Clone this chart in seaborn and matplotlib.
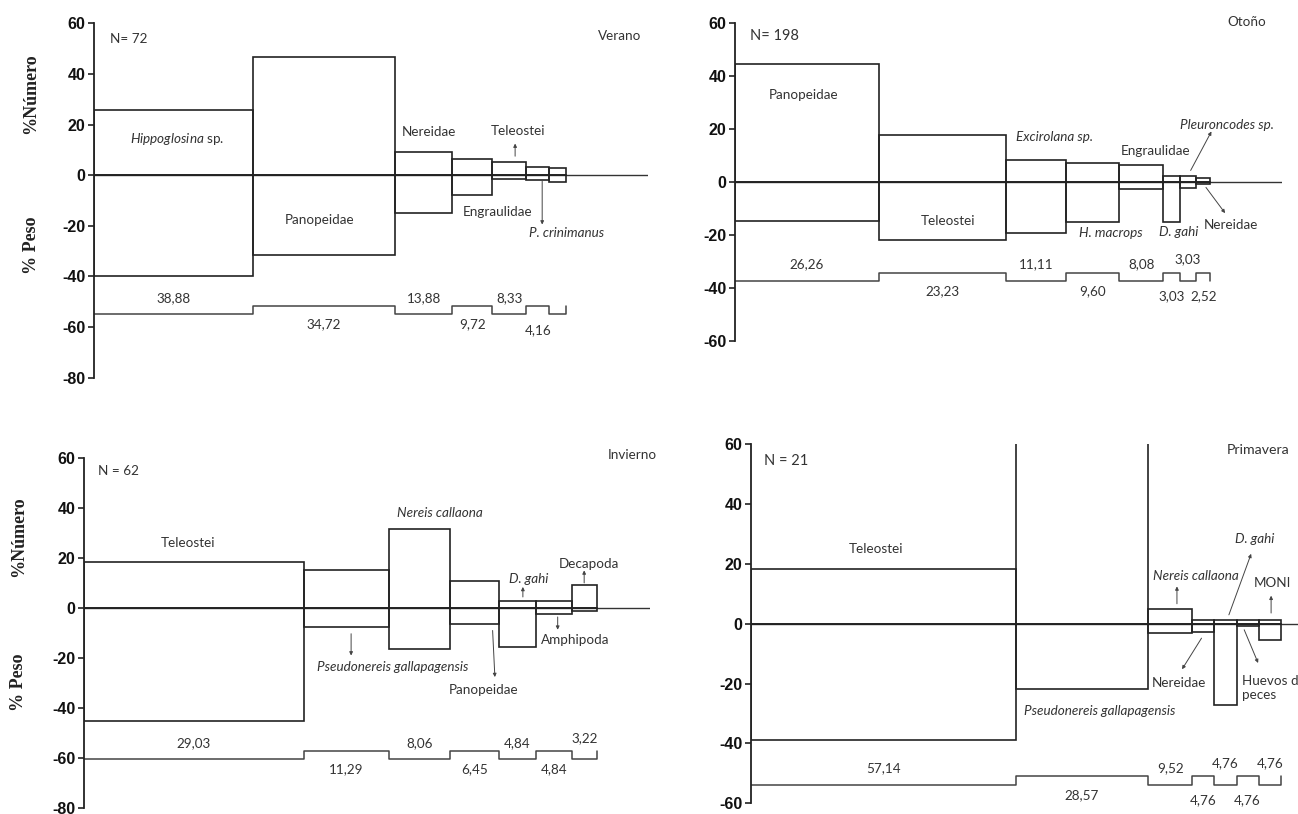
import numpy as np
import pandas as pd
import matplotlib
matplotlib.use("Agg")
import matplotlib.pyplot as plt
import seaborn as sns

sns.set_theme(style="white")
plt.rcParams['font.family'] = ['Lato', 'DejaVu Sans']
plt.rcParams['mathtext.fontset'] = 'custom'
plt.rcParams['mathtext.rm'] = 'Lato'
plt.rcParams['mathtext.it'] = 'Lato:italic'

# ---------------- data ----------------
# Verano (N = 72)
verano_fo = [38.88, 34.72, 13.88, 9.72, 8.33, 5.55, 4.16]
verano_fo_labels = ["38,88", "34,72", "13,88", "9,72", "8,33", "4,16", ""]
verano_pn = [25.8, 46.7, 9.2, 6.4, 5.3, 3.3, 2.9]
verano_pw = [-40.0, -31.4, -15.1, -8.0, -1.4, -2.0, -2.5]

# Otoño (N = 198)
otono_fo = [26.26, 23.23, 11.11, 9.60, 8.08, 3.03, 3.03, 2.52]
otono_fo_labels = ["26,26", "23,23", "11,11", "9,60", "8,08", "3,03", "3,03", "2,52"]
otono_pn = [44.5, 17.5, 8.3, 7.2, 6.2, 2.2, 2.2, 1.5]
otono_pw = [-14.7, -22.0, -19.1, -15.3, -2.7, -15.0, -2.2, -0.95]

# Invierno (N = 62)
invierno_fo = [29.03, 11.29, 8.06, 6.45, 4.84, 4.84, 3.22]
invierno_fo_labels = ["29,03", "11,29", "8,06", "6,45", "4,84", "4,84", "3,22"]
invierno_pn = [18.3, 15.1, 31.7, 10.9, 2.8, 2.8, 9.2]
invierno_pw = [-45.2, -7.6, -16.5, -6.5, -15.6, -2.3, -1.3]

# Primavera (N = 21)
primavera_fo = [57.14, 28.57, 9.52, 4.76, 4.76, 4.76, 4.76]
primavera_fo_labels = ["57,14", "28,57", "9,52", "4,76", "4,76", "4,76", "4,76"]
primavera_pn = [18.4, 71.4, 4.8, 1.3, 1.3, 1.3, 1.3]
primavera_pw = [-38.8, -21.8, -3.2, -2.6, -27.1, -0.7, -5.4]

# ---------------- figure ----------------
W, H = 1298, 814
fig = plt.figure(figsize=(W / 100, H / 100), dpi=100)

EDGE = "#222222"
TXT = "#333333"
ARR = "#444444"
FS = 9.7


def add_panel(rect_px, xmax, ylim, fo, pn, pw, fo_labels, low, high):
    x0, ytop, x1, ybot = rect_px
    ax = fig.add_axes([x0 / W, 1 - ybot / H, (x1 - x0) / W, (ybot - ytop) / H])
    fo = np.asarray(fo)
    left = np.concatenate([[0], np.cumsum(fo)[:-1]])
    end = fo.sum()
    ax.bar(left, pn, width=fo, align='edge', fill=False, edgecolor=EDGE, linewidth=1.2)
    ax.bar(left, pw, width=fo, align='edge', fill=False, edgecolor=EDGE, linewidth=1.2)
    ax.axhline(0, color="#333333", lw=1.0, zorder=0)
    # step line of frequency of occurrence
    levels = [low if i % 2 == 0 else high for i in range(len(fo))]
    other = high if levels[-1] == low else low
    xs = list(left) + [end, end]
    ys = levels + [levels[-1], other]
    ax.plot(xs, ys, drawstyle='steps-post', color="#444444", lw=1.1)
    px_per_unit = (x1 - x0) / xmax
    for i, lab in enumerate(fo_labels):
        if not lab:
            continue
        cx = left[i] + fo[i] / 2
        narrow = fo[i] * px_per_unit < 30
        if levels[i] == low:
            ax.annotate(lab, (cx, high), xytext=(0, 5 if narrow else 1.5), textcoords='offset points',
                        ha='center', va='bottom', fontsize=FS, color=TXT)
        else:
            ax.annotate(lab, (cx, low), xytext=(0, -7 if narrow else -3), textcoords='offset points',
                        ha='center', va='top', fontsize=FS, color=TXT)
    ax.set_xlim(0, xmax)
    ax.set_ylim(*ylim)
    ax.set_yticks(np.arange(ylim[0], ylim[1] + 1, 20))
    ax.set_yticklabels([str(v) for v in np.arange(ylim[0], ylim[1] + 1, 20)],
                       fontfamily=['Liberation Sans', 'DejaVu Sans'], fontweight='bold', fontsize=11.5,
                       color='#111111')
    ax.set_xticks([])
    for s in ['top', 'right', 'bottom']:
        ax.spines[s].set_visible(False)
    ax.spines['left'].set_color('#222222')
    ax.spines['left'].set_linewidth(1.3)
    ax.tick_params(axis='y', left=True, length=4, width=1.2, color='#222222', pad=2)
    ax.patch.set_alpha(0)
    return ax


def label(ax, text, x, y, italic=False, ha='center', size=FS):
    ax.text(x, y, text, ha=ha, va='center', fontsize=size, color=TXT,
            style='italic' if italic else 'normal', clip_on=False)


def arrow(ax, p_from, p_to):
    ax.annotate('', xy=p_to, xytext=p_from, annotation_clip=False,
                arrowprops=dict(arrowstyle='-|>', lw=0.7, color=ARR, mutation_scale=5,
                                shrinkA=0, shrinkB=0))


# Verano
ax1 = add_panel((93.5, 23.3, 648, 377.7), 135.2, (-80, 60), verano_fo, verano_pn, verano_pw,
                verano_fo_labels, -55, -51.8)
label(ax1, "$\\mathit{Hippoglosina}$ sp.", 20.4, 14.1)
label(ax1, "Panopeidae", 55, -17.7)
label(ax1, "Nereidae", 81.8, 17)
label(ax1, "Teleostei", 103.5, 17.3)
arrow(ax1, (102.8, 7.5), (102.8, 12.5))
label(ax1, "Engraulidae", 98.6, -14.5)
label(ax1, "P. crinimanus", 115.4, -23, italic=True)
arrow(ax1, (109.4, -2.4), (109.4, -19.5))
label(ax1, "N= 72", 4, 53.8, ha='left')
label(ax1, "Verano", 123, 55, ha='left')

# Otoño
ax2 = add_panel((735, 22.7, 1282, 341), 100, (-60, 60), otono_fo, otono_pn, otono_pw,
                otono_fo_labels, -37.2, -34.2)
label(ax2, "Panopeidae", 12.5, 32.8)
label(ax2, "Teleostei", 39, -14.6)
label(ax2, "Excirolana sp.", 58.5, 16.8, italic=True)
label(ax2, "Engraulidae", 76.9, 11.8)
label(ax2, "Pleuroncodes sp.", 90, 21.5, italic=True)
arrow(ax2, (83.3, 4.3), (87.1, 19))
label(ax2, "H. macrops", 68.7, -19.3, italic=True)
label(ax2, "D. gahi", 81.2, -19, italic=True)
label(ax2, "Nereidae", 90.7, -16.2)
arrow(ax2, (86.1, -2.1), (89.6, -11.8))
label(ax2, "N= 198", 2.7, 55, ha='left', size=10.5)
label(ax2, "Otoño", 90, 60.4, ha='left')

# Invierno
ax3 = add_panel((84, 457.7, 650, 808.3), 74.8, (-80, 60), invierno_fo, invierno_pn, invierno_pw,
                invierno_fo_labels, -60.4, -57.2)
label(ax3, "Teleostei", 13.8, 26)
label(ax3, "Nereis callaona", 47, 38.1, italic=True)
label(ax3, "D. gahi", 58.8, 11.5, italic=True)
arrow(ax3, (58, 4.4), (58, 8.4))
label(ax3, "Decapoda", 66.7, 17.7)
arrow(ax3, (66.1, 10), (66.1, 15))
label(ax3, "Pseudonereis gallapagensis", 40.8, -23.6, italic=True)
arrow(ax3, (35.3, -10.3), (35.3, -19))
label(ax3, "Panopeidae", 52.8, -32.7)
arrow(ax3, (54, -9), (54.3, -27.6))
label(ax3, "Amphipoda", 64.9, -12.7)
arrow(ax3, (62.6, -3.6), (62.6, -8.7))
label(ax3, "N = 62", 1.9, 54.7, ha='left')
label(ax3, "Invierno", 69.2, 61, ha='left')

# Primavera
ax4 = add_panel((750.7, 444.3, 1298, 803.3), 118, (-60, 60), primavera_fo, primavera_pn, primavera_pw,
                primavera_fo_labels, -53.8, -50.8)
label(ax4, "Teleostei", 27.1, 25)
label(ax4, "Pseudonereis gallapagensis", 75.2, -29, italic=True)
label(ax4, "Nereis callaona", 95.9, 16, italic=True)
arrow(ax4, (91.9, 6.7), (91.9, 12.5))
label(ax4, "D. gahi", 108.7, 28.3, italic=True)
arrow(ax4, (103.1, 3), (107.9, 23.4))
label(ax4, "MONI", 112.5, 13.6)
arrow(ax4, (112.2, 3.6), (112.2, 9.4))
label(ax4, "Nereidae", 92.3, -19.8)
arrow(ax4, (97.2, -4.8), (93, -15.2))
label(ax4, "Huevos de\npeces", 106, -21.5, ha='left')
arrow(ax4, (106.4, -2), (109.4, -13.1))
label(ax4, "N = 21", 2.9, 54.5, ha='left', size=10.5)
label(ax4, "Primavera", 102.7, 58.2, ha='left', size=10.2)

# y-axis titles
serif = ['Liberation Serif', 'DejaVu Serif']
for (x, y1, y2) in [(31, 94, 245), (18.7, 536.7, 682.3)]:
    fig.text(x / W, 1 - y1 / H, "%Número", rotation=90, ha='center', va='center',
             fontfamily=serif, fontweight='bold', fontsize=13, color='#222222')
    fig.text(x / W, 1 - y2 / H, "% Peso", rotation=90, ha='center', va='center',
             fontfamily=serif, fontweight='bold', fontsize=13, color='#222222')

fig.savefig("out.png", dpi=100)
